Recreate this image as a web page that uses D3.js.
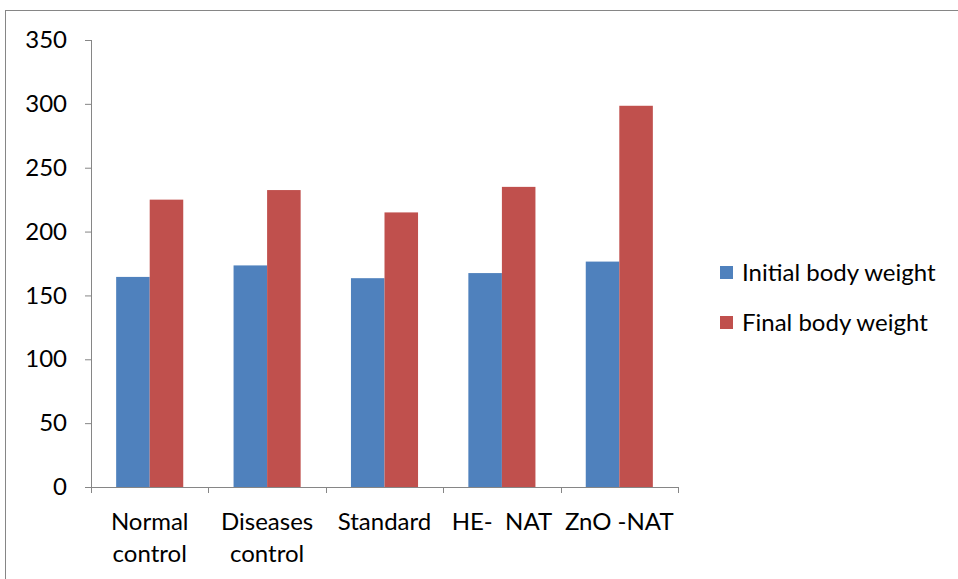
<!DOCTYPE html>
<html>
<head>
<meta charset="utf-8">
<script src="https://cdn.jsdelivr.net/npm/d3@7"></script>
<style>
  body { margin: 0; background: #fff; }
  svg text { font-family: Lato, "Open Sans", sans-serif; fill: #000; }
</style>
</head>
<body>
<svg id="chart" width="958" height="579"></svg>
<script>
// Body weight per group
const categories = [["Normal", "control"], ["Diseases", "control"], ["Standard"], ["HE-  NAT"], ["ZnO -NAT"]];
const seriesNames = ["Initial body weight", "Final body weight"];
const initialWeight = [164.5, 173.5, 163.5, 167.5, 176.5];
const finalWeight = [225, 232.5, 215, 235, 298.5];
const yTicks = [0, 50, 100, 150, 200, 250, 300, 350];
const colors = ["#4f81bd", "#c0504d"];

const svg = d3.select("#chart");

// outer chart frame
svg.append("rect")
  .attr("x", 5.5).attr("y", 10.5)
  .attr("width", 1000).attr("height", 1000)
  .attr("fill", "none").attr("stroke", "#868686").attr("stroke-width", 1);

const plotLeft = 91, plotRight = 678, plotTop = 40, plotBottom = 487;
const keys = categories.map((c, i) => i);
const fontSize = 24;

const x = d3.scaleBand().domain(keys).range([plotLeft, plotRight]).paddingInner(0).paddingOuter(0);
const x1 = d3.scaleBand().domain([0, 1]).range([0, x.bandwidth()]).paddingInner(0).paddingOuter(0.75);
const y = d3.scaleLinear().domain([0, 350]).range([plotBottom, plotTop]);

const series = [initialWeight, finalWeight];

// bars
series.forEach((vals, s) => {
  svg.append("g").selectAll("rect").data(vals).join("rect")
    .attr("x", (d, i) => x(i) + x1(s))
    .attr("y", d => y(d))
    .attr("width", x1.bandwidth())
    .attr("height", d => y(0) - y(d))
    .attr("fill", colors[s]);
});

// y axis
const yAxis = svg.append("g").attr("transform", `translate(${plotLeft},0)`)
  .call(d3.axisLeft(y).tickValues(yTicks).tickSize(6).tickPadding(18).tickFormat(d3.format("d")));
yAxis.selectAll("path, line").attr("stroke", "#868686");
yAxis.select(".domain").attr("d", `M0.5,${plotTop}V${plotBottom}`);
yAxis.selectAll("text").attr("font-size", fontSize).attr("fill", "#000")
  .style("font-family", "Lato, 'Open Sans', sans-serif");

// x axis
const xAxis = svg.append("g").attr("transform", `translate(0,${plotBottom})`);
xAxis.append("line").attr("x1", plotLeft).attr("x2", plotRight).attr("y1", 0.5).attr("y2", 0.5).attr("stroke", "#868686");
xAxis.selectAll("line.tick").data(d3.range(categories.length + 1)).join("line")
  .attr("class", "tick")
  .attr("x1", i => Math.round(plotLeft + i * x.step()) + 0.5)
  .attr("x2", i => Math.round(plotLeft + i * x.step()) + 0.5)
  .attr("y1", 0).attr("y2", 6).attr("stroke", "#868686");

// category labels
categories.forEach((lines, i) => {
  const t = svg.append("text")
    .attr("x", x(i) + x.bandwidth() / 2)
    .attr("y", 530)
    .attr("text-anchor", "middle")
    .attr("font-size", fontSize)
    .style("white-space", "pre");
  lines.forEach((ln, k) => {
    t.append("tspan").attr("x", x(i) + x.bandwidth() / 2).attr("dy", k === 0 ? 0 : 32).text(ln);
  });
});

// legend
const legend = svg.append("g").attr("transform", "translate(720,266)");
seriesNames.forEach((name, i) => {
  const g = legend.append("g").attr("transform", `translate(0,${i * 50})`);
  g.append("rect").attr("width", 13).attr("height", 13).attr("fill", colors[i]);
  g.append("text").attr("x", 22).attr("y", 15).attr("font-size", fontSize).text(name);
});
</script>
</body>
</html>
